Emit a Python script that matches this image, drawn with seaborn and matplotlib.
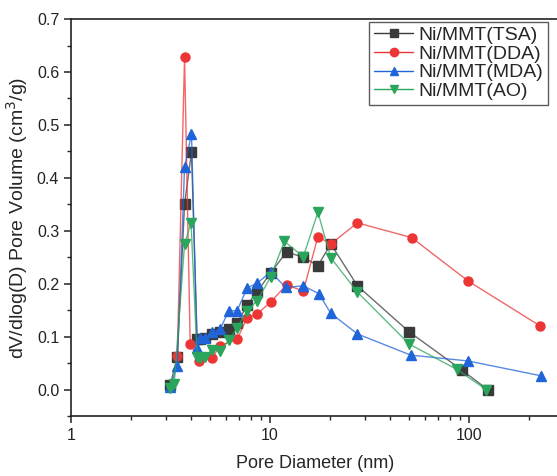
import numpy as np
import pandas as pd
import matplotlib.pyplot as plt
import seaborn as sns
from matplotlib.ticker import MultipleLocator, LogLocator, NullFormatter, FixedFormatter, FixedLocator

# pore size distribution
d_tsa = [3.15, 3.42, 3.72, 4.03, 4.30, 4.47, 4.73, 5.11, 5.63, 6.20, 6.83, 7.68, 8.62, 10.06,
         12.1, 14.7, 17.4, 20.2, 27.5, 50.0, 92.0, 124.0]
v_tsa = [0.008, 0.062, 0.350, 0.449, 0.096, 0.095, 0.098, 0.105, 0.108, 0.114, 0.125, 0.160,
         0.185, 0.220, 0.260, 0.250, 0.234, 0.275, 0.196, 0.109, 0.037, 0.000]

d_dda = [3.42, 3.72, 3.97, 4.38, 5.11, 5.63, 6.83, 7.68, 8.62, 10.06, 12.1, 14.7, 17.4, 20.2,
         27.5, 51.5, 99.0, 228.0]
v_dda = [0.064, 0.628, 0.087, 0.054, 0.060, 0.083, 0.095, 0.136, 0.143, 0.165, 0.198, 0.186,
         0.289, 0.275, 0.315, 0.287, 0.205, 0.120]

d_mda = [3.15, 3.42, 3.72, 4.03, 4.30, 4.47, 4.73, 5.11, 5.63, 6.20, 6.83, 7.68, 8.62, 10.06,
         12.0, 14.7, 17.6, 20.2, 27.5, 51.0, 99.0, 230.0]
v_mda = [0.005, 0.045, 0.420, 0.483, 0.079, 0.098, 0.098, 0.108, 0.115, 0.149, 0.149, 0.192,
         0.201, 0.222, 0.193, 0.196, 0.181, 0.144, 0.105, 0.065, 0.054, 0.026]

d_ao = [3.15, 3.30, 3.72, 4.01, 4.30, 4.47, 4.73, 5.11, 5.63, 6.20, 6.83, 7.68, 8.62, 10.06,
        11.8, 14.7, 17.4, 20.2, 27.5, 50.0, 87.0, 122.0]
v_ao = [0.003, 0.010, 0.275, 0.315, 0.062, 0.060, 0.062, 0.075, 0.073, 0.093, 0.117, 0.149,
        0.168, 0.212, 0.280, 0.251, 0.335, 0.249, 0.184, 0.086, 0.038, 0.000]

labels = ['Ni/MMT(TSA)', 'Ni/MMT(DDA)', 'Ni/MMT(MDA)', 'Ni/MMT(AO)']
xs = [d_tsa, d_dda, d_mda, d_ao]
ys = [v_tsa, v_dda, v_mda, v_ao]
colors = ['#3a3a3a', '#ec3535', '#1f64d8', '#2aa55c']
markers = ['s', 'o', '^', 'v']

sns.set_style('ticks')
plt.rcParams['font.family'] = ['Liberation Sans', 'DejaVu Sans']

fig = plt.figure(figsize=(5.57, 4.76), dpi=100)
ax = fig.add_axes([0.1275, 0.126, 0.876, 0.834])

for x, y, lab, c, m in zip(xs, ys, labels, colors, markers):
    df = pd.DataFrame({'d': x, 'v': y})
    sns.lineplot(data=df, x='d', y='v', ax=ax, sort=False, color=c, linewidth=1.0,
                 alpha=0.75, label=lab, legend=False)
    ax.plot(x, y, linestyle='none', marker=m, color=c, markersize=6.5,
            markeredgecolor=c)

ax.set_xscale('log')
ax.set_xlim(1, 283)
ax.set_ylim(-0.05, 0.7)
ax.xaxis.set_major_locator(FixedLocator([1, 10, 100]))
ax.xaxis.set_major_formatter(FixedFormatter(['1', '10', '100']))
ax.xaxis.set_minor_locator(LogLocator(base=10, subs=np.arange(2, 10)))
ax.xaxis.set_minor_formatter(NullFormatter())
ax.yaxis.set_major_locator(MultipleLocator(0.1))
ax.yaxis.set_minor_locator(MultipleLocator(0.05))
ax.yaxis.set_major_formatter(plt.FuncFormatter(lambda v, p: f'{v:.1f}'))

ax.tick_params(which='major', direction='out', length=5, width=1.1, labelsize=11.5,
               colors='#222222')
ax.tick_params(which='minor', direction='out', length=3, width=1.0)
for s in ax.spines.values():
    s.set_linewidth(1.2)
    s.set_color('#222222')

ax.set_xlabel('Pore Diameter (nm)', fontsize=13, labelpad=9)
ax.set_ylabel('dV/dlog(D) Pore Volume (cm$^3$/g)', fontsize=14, labelpad=5)

handles = [plt.Line2D([], [], color=c, marker=m, linewidth=1.0, markersize=6)
           for c, m in zip(colors, markers)]
leg = ax.legend(handles, labels, loc='upper left', bbox_to_anchor=(0.6115, 0.993),
                fontsize=14, frameon=True, fancybox=False, edgecolor='#333333',
                handlelength=2.0, handletextpad=0.25, labelspacing=0.05,
                borderpad=0.25, borderaxespad=0.0)
leg.get_frame().set_linewidth(1.0)

fig.savefig('out.png', dpi=100)
